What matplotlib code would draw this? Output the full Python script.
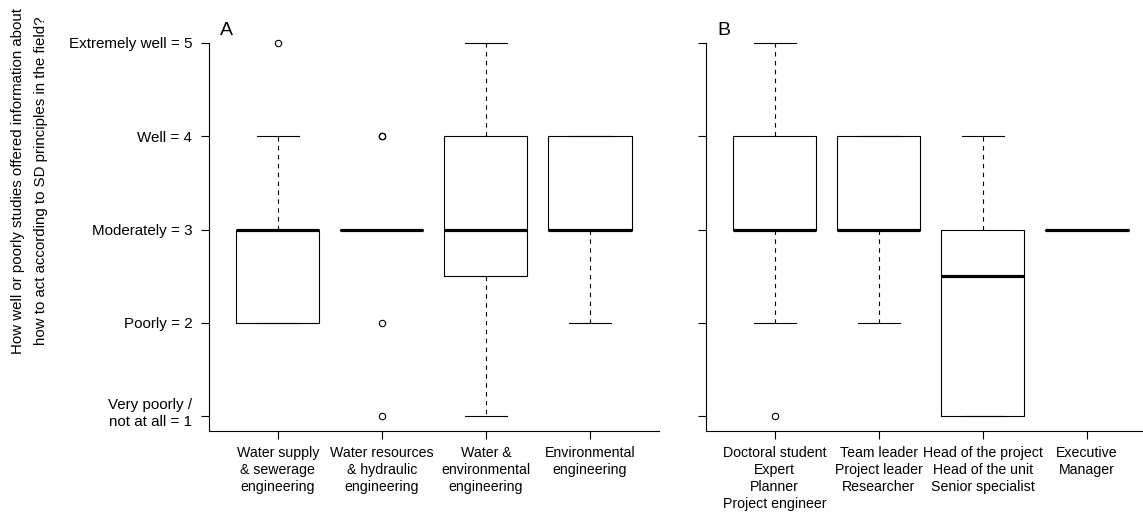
import matplotlib
matplotlib.use("Agg")
import matplotlib.pyplot as plt

plt.rcParams['font.family'] = ['Liberation Sans', 'DejaVu Sans']

# Panel A: field of study
fields = ["Water supply\n& sewerage\nengineering",
          "Water resources\n& hydraulic\nengineering",
          "Water &\nenvironmental\nengineering",
          "Environmental\nengineering"]
a_q1 = [2, 3, 2.5, 3]
a_med = [3, 3, 3, 3]
a_q3 = [3, 3, 4, 4]
a_lo = [2, 3, 1, 2]
a_hi = [4, 3, 5, 4]
a_out = [[5], [4, 4, 2, 1], [], []]

# Panel B: job title
roles = ["Doctoral student\nExpert\nPlanner\nProject engineer",
         "Team leader\nProject leader\nResearcher",
         "Head of the project\nHead of the unit\nSenior specialist",
         "Executive\nManager"]
b_q1 = [3, 3, 1, 3]
b_med = [3, 3, 2.5, 3]
b_q3 = [4, 4, 3, 3]
b_lo = [2, 2, 1, 3]
b_hi = [5, 4, 4, 3]
b_out = [[1], [], [], []]

scale_vals = [1, 2, 3, 4, 5]
scale_labels = ["Very poorly /\nnot at all = 1", "Poorly = 2", "Moderately = 3",
                "Well = 4", "Extremely well = 5"]

ylabel_lines = ["How well or poorly studies offered information about",
                "how to act according to SD principles in the field?"]


def make_stats(q1, med, q3, lo, hi, out):
    return [dict(q1=a, med=m, q3=b, whislo=l, whishi=h, fliers=f)
            for a, m, b, l, h, f in zip(q1, med, q3, lo, hi, out)]


def draw_panel(ax, stats, labels, tag, show_ylabels):
    ax.bxp(stats, positions=range(1, len(stats) + 1), widths=0.8,
           showfliers=True,
           boxprops=dict(color="black", linewidth=0.8),
           medianprops=dict(color="black", linewidth=2.3, solid_capstyle="butt"),
           whiskerprops=dict(color="black", linewidth=0.8, linestyle=(0, (4, 4))),
           capprops=dict(color="black", linewidth=0.8),
           capwidths=0.4,
           flierprops=dict(marker="o", markersize=4.6, markerfacecolor="none",
                           markeredgecolor="black", markeredgewidth=0.8,
                           linestyle="none"))
    ax.set_xlim(0.34, 4.66)
    ax.set_ylim(0.84, 5.16)
    for s in ("top", "right"):
        ax.spines[s].set_visible(False)
    ax.spines["left"].set_bounds(0.84, 5)
    for s in ("left", "bottom"):
        ax.spines[s].set_linewidth(0.8)
    ax.set_xticks(range(1, len(labels) + 1))
    ax.set_xticklabels(labels, fontsize=10.2, linespacing=1.25)
    ax.set_yticks(scale_vals)
    ax.tick_params(axis="both", length=6, width=0.8, color="black")
    ax.tick_params(axis="x", pad=5)
    ax.tick_params(axis="y", pad=6)
    if show_ylabels:
        # two-line bottom label sits slightly above its tick
        ax.set_yticklabels([""] + scale_labels[1:], fontsize=10.9)
        ax.annotate(scale_labels[0], xy=(0, scale_vals[0]),
                    xycoords=ax.get_yaxis_transform(),
                    xytext=(-12, 2.0), textcoords="offset points",
                    ha="right", va="center", fontsize=10.9, linespacing=1.3)
    else:
        ax.set_yticklabels([])
    ax.text(0.025, 0.983, tag, transform=ax.transAxes, fontsize=14,
            ha="left", va="baseline")


fig = plt.figure(figsize=(11.43, 5.12), dpi=100)
ax_a = fig.add_axes([0.1829, 0.1582, 0.3933, 0.7871])
ax_b = fig.add_axes([0.6177, 0.1582, 0.3933, 0.7871])

draw_panel(ax_a, make_stats(a_q1, a_med, a_q3, a_lo, a_hi, a_out), fields, "A", True)
draw_panel(ax_b, make_stats(b_q1, b_med, b_q3, b_lo, b_hi, b_out), roles, "B", False)

# Shared y-axis title, one text per line
for line, xpx in zip(ylabel_lines, (18.0, 41.5)):
    fig.text(xpx / 1143, 0.646, line, rotation=90, ha="center", va="center",
             fontsize=10.8)

fig.savefig("out.png", dpi=100)
